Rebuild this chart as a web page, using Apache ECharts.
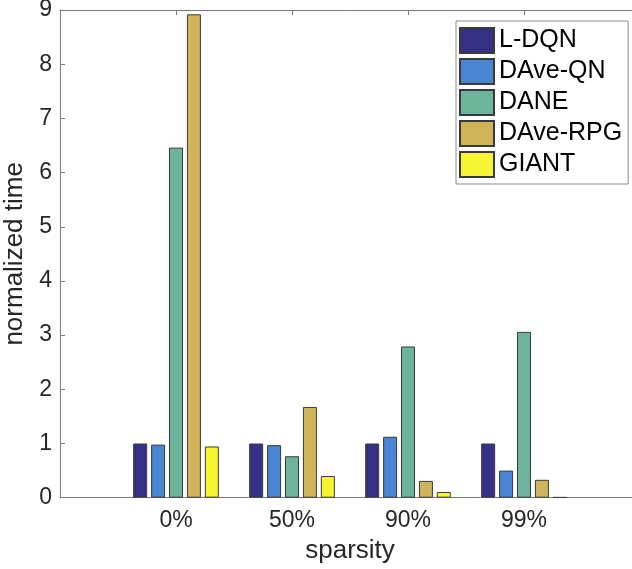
<!DOCTYPE html>
<html>
<head>
<meta charset="utf-8">
<script src="https://cdn.jsdelivr.net/npm/echarts@6/dist/echarts.min.js"></script>
<style>
  html, body { margin: 0; padding: 0; background: #fff; }
  #chart { width: 632px; height: 569px; }
</style>
</head>
<body>
<div id="chart"></div>
<script>
// sparsity levels on the x axis
const categories = ['0%', '50%', '90%', '99%'];
const seriesNames = ['L-DQN', 'DAve-QN', 'DANE', 'DAve-RPG', 'GIANT'];
const colors = ['#352f86', '#4a85d3', '#6cb59b', '#cfb45a', '#f7f432'];

// normalized time per method, one value per sparsity level
const lDqn = [1.0, 1.0, 1.0, 1.0];
const daveQn = [0.98, 0.97, 1.125, 0.5];
const dane = [6.46, 0.765, 2.79, 3.06];
const daveRpg = [8.92, 1.675, 0.31, 0.33];
const giant = [0.945, 0.4, 0.105, 0.01];
const yTicks = [0, 1, 2, 3, 4, 5, 6, 7, 8, 9];

const values = [lDqn, daveQn, dane, daveRpg, giant];
const font = 'Helvetica, "Liberation Sans", Arial, sans-serif';
const axisGray = '#7a7a7a';

// pad with empty slots so the axis runs from 0 to 5 like MATLAB's xlim
const xData = [''].concat(categories, ['']);
const showTick = (i) => i > 0 && i < xData.length - 1;

const chart = echarts.init(document.getElementById('chart'), null, { renderer: 'canvas' });

chart.setOption({
  animation: false,
  backgroundColor: '#fff',
  textStyle: { fontFamily: font },
  // the right half of the MATLAB box is cropped off the picture
  grid: {
    left: 60, top: 10, width: 580, height: 487.7,
    containLabel: false, outerBoundsMode: 'none'
  },
  legend: {
    orient: 'vertical',
    left: 456,
    top: 21,
    padding: [6, 6, 6, 3],
    itemWidth: 34,
    itemHeight: 25,
    itemGap: 4,
    icon: 'rect',
    borderColor: '#8c8c8c',
    borderWidth: 1,
    backgroundColor: '#fff',
    textStyle: { fontSize: 25, lineHeight: 25, color: '#000', fontFamily: font },
    data: seriesNames
  },
  xAxis: [
    {
      type: 'category',
      data: xData,
      boundaryGap: false,
      name: 'sparsity',
      nameLocation: 'middle',
      nameGap: 40,
      nameTextStyle: { fontSize: 26, color: '#262626', fontFamily: font },
      axisLine: { lineStyle: { color: axisGray, width: 1 } },
      axisTick: { inside: true, length: 5, interval: showTick, lineStyle: { color: axisGray } },
      axisLabel: { fontSize: 23, color: '#262626', margin: 11, interval: 0, fontFamily: font },
      splitLine: { show: false }
    },
    {
      type: 'category',
      position: 'top',
      data: xData,
      boundaryGap: false,
      axisLine: { lineStyle: { color: axisGray, width: 1 } },
      axisTick: { inside: true, length: 5, interval: showTick, lineStyle: { color: axisGray } },
      axisLabel: { show: false },
      splitLine: { show: false }
    }
  ],
  yAxis: {
    type: 'value',
    min: 0,
    max: 9,
    interval: 1,
    name: 'normalized time',
    nameLocation: 'middle',
    nameGap: 30,
    nameTextStyle: { fontSize: 26, color: '#262626', fontFamily: font },
    axisLine: { show: true, lineStyle: { color: axisGray, width: 1 } },
    axisTick: { show: true, inside: true, length: 5, lineStyle: { color: axisGray } },
    axisLabel: {
      fontSize: 23, color: '#262626', margin: 8, fontFamily: font,
      formatter: (v) => (yTicks.indexOf(v) >= 0 ? String(v) : '')
    },
    splitLine: { show: false }
  },
  series: seriesNames.map((name, k) => ({
    name: name,
    type: 'bar',
    xAxisIndex: 0,
    barWidth: 14,
    barGap: '28%',
    data: [null].concat(values[k], [null]),
    itemStyle: {
      color: colors[k],
      borderColor: '#3a3a3a',
      borderWidth: 1
    }
  }))
});
</script>
</body>
</html>
